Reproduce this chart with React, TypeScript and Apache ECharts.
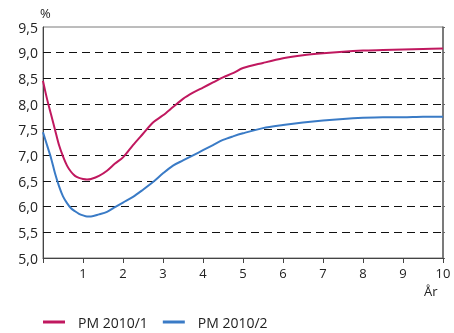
import React, { useEffect, useRef } from "react";
import * as echarts from "echarts";

const years = [0, 0.1, 0.2, 0.3, 0.4, 0.5, 0.6, 0.7, 0.8, 0.9, 1.0, 1.1, 1.2, 1.4, 1.6, 1.8, 2.0, 2.25, 2.5, 2.75, 3.0, 3.25, 3.5, 3.75, 4.0, 4.25, 4.5, 4.75, 5.0, 5.5, 6.0, 6.5, 7.0, 7.5, 8.0, 8.5, 9.0, 9.5, 10];
const pm2010_1 = [8.45, 8.1, 7.8, 7.5, 7.2, 6.98, 6.8, 6.68, 6.6, 6.56, 6.54, 6.53, 6.54, 6.6, 6.7, 6.84, 6.96, 7.2, 7.42, 7.64, 7.78, 7.94, 8.1, 8.22, 8.32, 8.42, 8.52, 8.6, 8.7, 8.8, 8.89, 8.95, 8.99, 9.02, 9.04, 9.05, 9.06, 9.07, 9.08];
const pm2010_2 = [7.45, 7.2, 6.95, 6.65, 6.4, 6.2, 6.07, 5.97, 5.91, 5.86, 5.83, 5.81, 5.81, 5.85, 5.9, 5.99, 6.08, 6.19, 6.33, 6.48, 6.65, 6.8, 6.9, 7.0, 7.1, 7.2, 7.3, 7.37, 7.43, 7.53, 7.59, 7.64, 7.68, 7.71, 7.73, 7.74, 7.74, 7.75, 7.75];
const gridValues = [5.5, 6.0, 6.5, 7.0, 7.5, 8.0, 8.5, 9.0];
const seriesNames = ["PM 2010/1", "PM 2010/2"];
const colors = ["#c0185f", "#3a7bc6"];

const FONT = "'Open Sans', 'Noto Sans', sans-serif";

export default function App() {
  const ref = useRef<HTMLDivElement>(null);
  useEffect(() => {
    if (!ref.current) return;
    const chart = echarts.init(ref.current, null, { renderer: "svg" });
    const fmt = (v: number) => v.toFixed(1).replace(".", ",");
    chart.setOption({
      animation: false,
      grid: { left: 43, right: 11, top: 27, bottom: 75, show: true, borderColor: "#7a7a7a", borderWidth: 1 },
      legend: {
        left: 43,
        top: 314,
        icon: "rect",
        itemWidth: 22,
        itemHeight: 3,
        itemGap: 15,
        padding: 0,
        textStyle: { fontFamily: FONT, fontSize: 14, lineHeight: 16, color: "#222", padding: [0, 0, 0, 8] },
        data: seriesNames,
      },
      xAxis: {
        type: "value",
        min: 0,
        max: 10,
        interval: 1,
        axisLine: { show: true, lineStyle: { color: "#444", width: 1 } },
        axisTick: { show: true, length: 5, lineStyle: { color: "#444" } },
        axisLabel: {
          fontFamily: FONT,
          fontSize: 13,
          color: "#222",
          margin: 8,
          formatter: (v: number) => (v === 0 ? "" : String(v)),
        },
        splitLine: { show: false },
      },
      yAxis: [
        {
          type: "value",
          min: 5,
          max: 9.5,
          interval: 0.5,
          axisLine: { show: true, lineStyle: { color: "#444", width: 1 } },
          axisTick: { show: false },
          axisLabel: { fontFamily: FONT, fontSize: 14, color: "#222", margin: 5, formatter: fmt },
          splitLine: { show: false },
        },
        {
          type: "value",
          position: "right",
          min: 5,
          max: 9.5,
          interval: 0.5,
          axisLine: { show: true, lineStyle: { color: "#666", width: 1.5 } },
          axisTick: { show: true, inside: false, length: 2, lineStyle: { color: "#666" } },
          axisLabel: { show: false },
          splitLine: { show: false },
        },
      ],
      graphic: [
        { type: "text", left: 40, top: 6, style: { text: "%", font: `13px ${FONT}`, fill: "#222" } },
        { type: "text", left: 424, top: 284, style: { text: "År", font: `13px ${FONT}`, fill: "#222" } },
      ],
      series: [
        {
          name: seriesNames[0],
          type: "line",
          data: years.map((x, i) => [x, pm2010_1[i]]),
          smooth: 0.3,
          showSymbol: false,
          lineStyle: { color: colors[0], width: 2 },
          itemStyle: { color: colors[0] },
          z: 3,
          markLine: {
            silent: true,
            symbol: "none",
            label: { show: false },
            lineStyle: { color: "#111", type: [8, 5], width: 1 },
            data: gridValues.map((v) => ({ yAxis: v })),
            z: 1,
          },
        },
        {
          name: seriesNames[1],
          type: "line",
          data: years.map((x, i) => [x, pm2010_2[i]]),
          smooth: 0.3,
          showSymbol: false,
          lineStyle: { color: colors[1], width: 2 },
          itemStyle: { color: colors[1] },
          z: 3,
        },
      ],
    });
    return () => chart.dispose();
  }, []);
  return <div ref={ref} style={{ position: "fixed", left: 0, top: 0, width: 454, height: 333 }} />;
}
